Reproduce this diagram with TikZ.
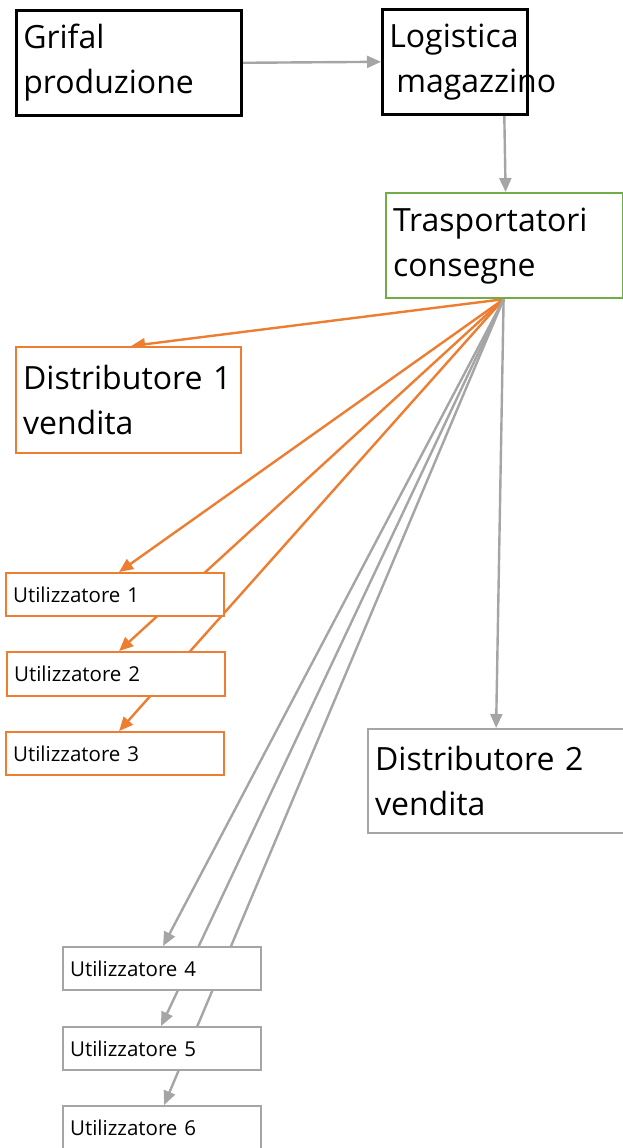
\documentclass[tikz,border=0pt]{standalone}
\usepackage{fontspec}
\setmainfont{Open Sans}
\usetikzlibrary{arrows.meta,backgrounds}
\definecolor{cOrange}{HTML}{ED7D31}
\definecolor{cGreen}{HTML}{70AD47}
\definecolor{cGrey}{HTML}{A5A5A5}
\newcommand{\bline}[1]{\raisebox{-3pt}{#1}}
\tikzset{
  bigbox/.style={draw, fill=white, line width=2.2pt, anchor=north west, align=left,
    inner xsep=7pt, inner ysep=0pt, font=\fontsize{32}{45}\selectfont},
  smallbox/.style={draw, fill=white, line width=2.2pt, anchor=north west, align=left,
    inner xsep=7pt, inner ysep=0pt, font=\fontsize{20.5}{24}\selectfont},
  greyarrow/.style={draw=cGrey, line width=2.4pt, -{Triangle[length=14pt,width=12pt]}, cGrey},
  orangearrow/.style={draw=cOrange, line width=2.4pt, -{Triangle[length=14pt,width=12pt]}, cOrange}
}
\begin{document}
\begin{tikzpicture}[x=1pt,y=-1pt]
\useasboundingbox (0,0) rectangle (623,1148);
\node[bigbox, draw=black, line width=2.6pt, text width=211pt, minimum height=105pt] (grifal) at (15,9) {\bline{Grifal}\\\bline{produzione}};
\node[bigbox, draw=black, line width=2.6pt, text width=131pt, minimum height=105pt] (log) at (381,8) {\bline{Logistica}\\\hspace*{7pt}\bline{magazzino}};
\node[bigbox, draw=cGreen, text width=223pt, minimum height=105pt] (trasp) at (385,192) {\bline{Trasportatori}\\\bline{consegne}};
\node[bigbox, draw=cOrange, text width=211pt, minimum height=106pt] (dist1) at (15,346) {\bline{Distributore 1}\\\bline{vendita}};
\node[bigbox, draw=cGrey, text width=242pt, minimum height=104pt] (dist2) at (367,728) {\bline{Distributore 2}\\\bline{vendita}};
\node[smallbox, draw=cOrange, text width=204pt, minimum height=43pt] (u1) at (5,572) {Utilizzatore 1};
\node[smallbox, draw=cOrange, text width=204pt, minimum height=44pt] (u2) at (6,651) {Utilizzatore 2};
\node[smallbox, draw=cOrange, text width=204pt, minimum height=43pt] (u3) at (5,731) {Utilizzatore 3};
\node[smallbox, draw=cGrey, text width=184pt, minimum height=43pt] (u4) at (62,946) {Utilizzatore 4};
\node[smallbox, draw=cGrey, text width=184pt, minimum height=43pt] (u5) at (62,1026) {Utilizzatore 5};
\node[smallbox, draw=cGrey, text width=184pt, minimum height=43pt] (u6) at (62,1105) {Utilizzatore 6};
\begin{pgfonlayer}{background}
\draw[greyarrow] (grifal.east) -- (log.west);
\draw[greyarrow] ([xshift=49.5pt]log.south) -- ([xshift=1pt]trasp.north);
\draw[orangearrow] ([xshift=-1pt]trasp.south) -- ([xshift=2.5pt]dist1.north);
\draw[orangearrow] ([xshift=-1pt]trasp.south) -- ([xshift=4pt]u1.north);
\draw[orangearrow] ([xshift=-1pt]trasp.south) -- ([xshift=3pt]u2.north);
\draw[orangearrow] ([xshift=-1pt]trasp.south) -- ([xshift=4pt]u3.north);
\draw[greyarrow] ([xshift=-1pt]trasp.south) -- (dist2.north);
\draw[greyarrow] ([xshift=-1pt]trasp.south) -- ([xshift=1pt]u4.north);
\draw[greyarrow] ([xshift=-1pt]trasp.south) -- ([xshift=-1pt]u5.north);
\draw[greyarrow] ([xshift=-1pt]trasp.south) -- ([xshift=2pt]u6.north);
\end{pgfonlayer}
\end{tikzpicture}
\end{document}
